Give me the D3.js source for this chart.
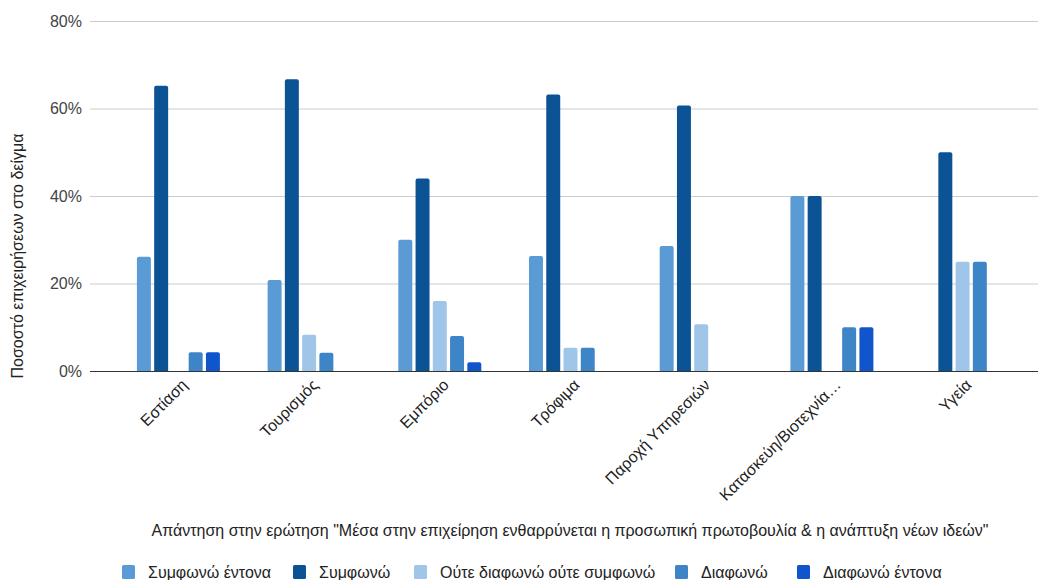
<!DOCTYPE html>
<html>
<head>
<meta charset="utf-8">
<script src="https://cdn.jsdelivr.net/npm/d3@7"></script>
<style>
  html, body { margin: 0; padding: 0; background: #fff; }
  svg { display: block; font-family: "Liberation Sans", Arial, sans-serif; }
</style>
</head>
<body>
<svg id="chart" width="1038" height="580"></svg>
<script>
// Sectors (x categories)
const categories = ["Εστίαση", "Τουρισμός", "Εμπόριο", "Τρόφιμα", "Παροχή Υπηρεσιών", "Κατασκεύη/Βιοτεχνία…", "Υγεία"];

// Answer options (series)
const seriesNames = ["Συμφωνώ έντονα", "Συμφωνώ", "Ούτε διαφωνώ ούτε συμφωνώ", "Διαφωνώ", "Διαφωνώ έντονα"];
const seriesColors = ["#5b9bd5", "#0b5394", "#9fc5e8", "#3d85c6", "#1155cc"];

// Percentage of businesses per sector, one array per answer option
const stronglyAgree    = [26.1, 20.8, 30.0, 26.3, 28.6, 40.0, 0];
const agree            = [65.2, 66.7, 44.0, 63.2, 60.7, 40.0, 50.0];
const neutral          = [0,    8.3,  16.0, 5.3,  10.7, 0,    25.0];
const disagree         = [4.3,  4.2,  8.0,  5.3,  0,    10.0, 25.0];
const stronglyDisagree = [4.3,  0,    2.0,  0,    0,    10.0, 0];

const yTicks = [0, 20, 40, 60, 80];
const yTitle = "Ποσοστό επιχειρήσεων στο δείγμα";
const xTitle = "Απάντηση στην ερώτηση \"Μέσα στην επιχείρηση ενθαρρύνεται η προσωπική πρωτοβουλία & η ανάπτυξη νέων ιδεών\"";

const seriesValues = [stronglyAgree, agree, neutral, disagree, stronglyDisagree];

const svg = d3.select("#chart");
const plot = { left: 90, right: 1038, top: 21, bottom: 371 };

const x0 = d3.scaleBand().domain(categories).range([113, 1028]).paddingInner(0.365).paddingOuter(0.183);
const x1 = d3.scaleBand().domain(d3.range(seriesNames.length)).range([0, x0.bandwidth()]).paddingInner(0.19);
const y = d3.scaleLinear().domain([0, 80]).range([plot.bottom, plot.top]);

// Gridlines
svg.append("g").selectAll("line").data(yTicks.filter(d => d > 0)).join("line")
  .attr("x1", plot.left).attr("x2", plot.right)
  .attr("y1", d => y(d) + 0.5).attr("y2", d => y(d) + 0.5)
  .attr("stroke", "#cccccc").attr("stroke-width", 1);

// Y tick labels
svg.append("g").selectAll("text").data(yTicks).join("text")
  .attr("x", 82).attr("y", d => y(d)).attr("dy", "0.35em")
  .attr("text-anchor", "end").attr("font-size", 16).attr("fill", "#444")
  .text(d => d + "%");

// Bars with slightly rounded tops
const groups = svg.append("g").selectAll("g").data(categories).join("g")
  .attr("transform", d => `translate(${x0(d)},0)`);

groups.each(function(cat, ci) {
  const g = d3.select(this);
  seriesValues.forEach((vals, si) => {
    const v = vals[ci];
    if (!v) return;
    const bx = x1(si), bw = x1.bandwidth();
    const top = y(v), h = plot.bottom - top, r = Math.min(2, h / 2);
    const path = `M${bx},${plot.bottom} V${top + r} Q${bx},${top} ${bx + r},${top} H${bx + bw - r} Q${bx + bw},${top} ${bx + bw},${top + r} V${plot.bottom} Z`;
    g.append("path").attr("d", path).attr("fill", seriesColors[si]);
  });
});

// Baseline
svg.append("line")
  .attr("x1", plot.left).attr("x2", plot.right)
  .attr("y1", plot.bottom + 0.5).attr("y2", plot.bottom + 0.5)
  .attr("stroke", "#333333").attr("stroke-width", 1);

// Rotated category labels
svg.append("g").selectAll("text").data(categories).join("text")
  .attr("transform", d => `translate(${x0(d) + x0.bandwidth() / 2 + 10},${386}) rotate(-45)`)
  .attr("text-anchor", "end").attr("font-size", 16).attr("fill", "#222")
  .text(d => d);

// Axis titles
svg.append("text")
  .attr("transform", `translate(23,256) rotate(-90)`)
  .attr("text-anchor", "middle").attr("font-size", 16).attr("fill", "#222")
  .text(yTitle);

svg.append("text")
  .attr("x", 570).attr("y", 536)
  .attr("text-anchor", "middle").attr("font-size", 16).attr("fill", "#222")
  .text(xTitle);

// Legend
const legendX = [122, 293, 414, 675, 797];
const legend = svg.append("g").selectAll("g").data(seriesNames).join("g")
  .attr("transform", (d, i) => `translate(${legendX[i]},565)`);
legend.append("rect").attr("width", 13).attr("height", 14).attr("rx", 1.5)
  .attr("fill", (d, i) => seriesColors[i]);
legend.append("text").attr("x", 26).attr("y", 12.5)
  .attr("font-size", 16).attr("fill", "#222").text(d => d);
</script>
</body>
</html>
